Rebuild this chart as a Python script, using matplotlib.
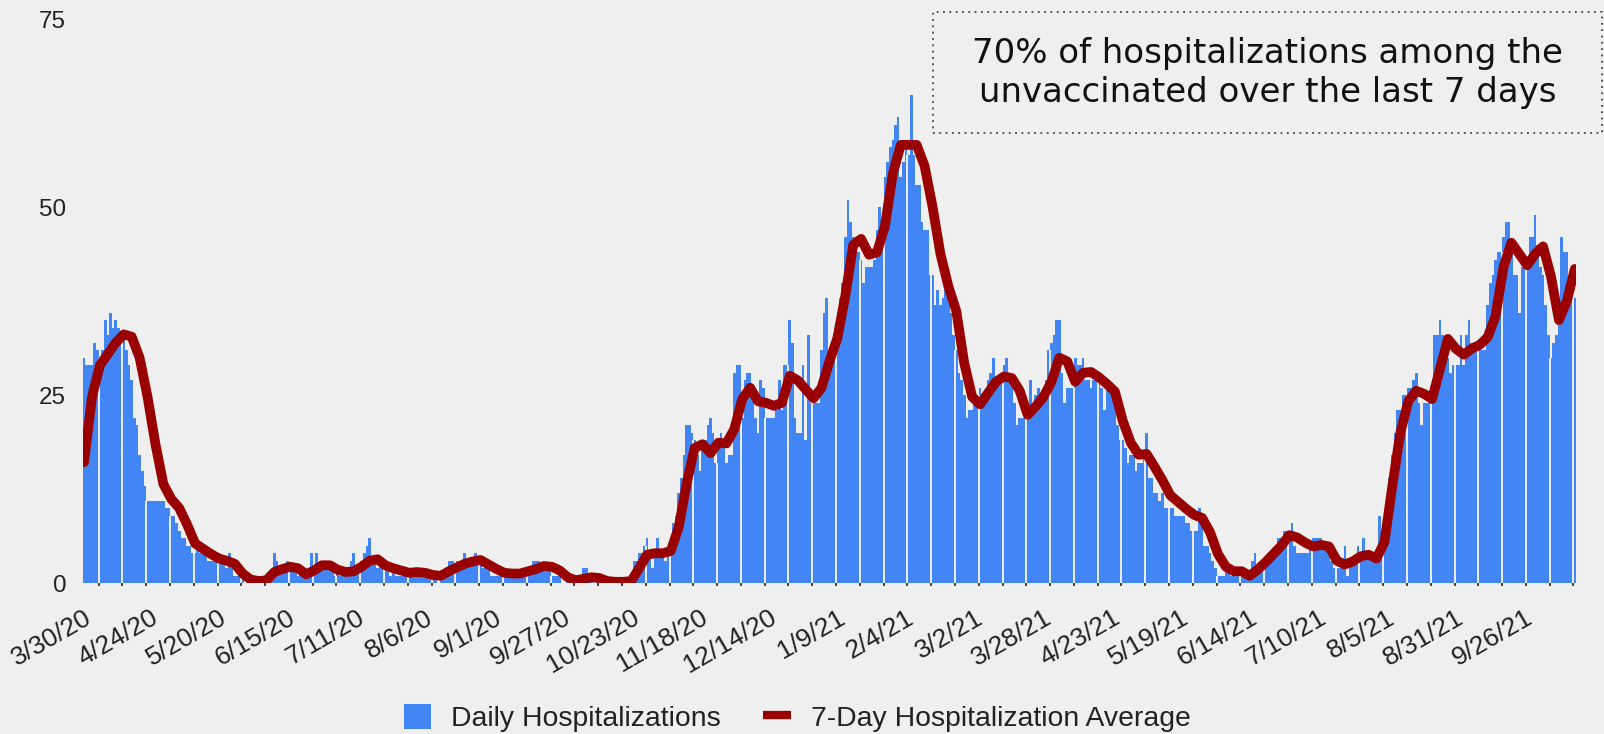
import matplotlib
matplotlib.use("Agg")
import matplotlib.pyplot as plt
from matplotlib.patches import Rectangle, Patch
from matplotlib.lines import Line2D
from matplotlib.ticker import MultipleLocator
import numpy as np
import pandas as pd

# ---- data ----
START = "2020-03-30"
# daily hospitalizations, one value per day from 3/30/20 (10 per row)
DAILY = [
    30, 29, 29, 29, 32, 31, 30, 31, 35, 33,
    36, 34, 35, 34, 33, 33, 31, 29, 27, 22,
    21, 17, 15, 13, 11, 11, 11, 11, 11, 11,
    11, 10, 10, 9, 9, 8, 7, 6, 6, 5,
    5, 4, 4, 5, 4, 4, 4, 3, 3, 3,
    3, 4, 3, 3, 2, 4, 2, 1, 1, 1,
    1, 0, 0, 1, 0, 0, 0, 1, 0, 0,
    0, 1, 4, 3, 2, 2, 2, 3, 2, 2,
    2, 1, 2, 1, 1, 1, 4, 2, 4, 2,
    3, 3, 2, 2, 2, 1, 2, 1, 1, 2,
    1, 3, 4, 2, 2, 3, 4, 5, 6, 3,
    3, 2, 3, 2, 2, 2, 1, 2, 1, 1,
    1, 1, 1, 2, 1, 2, 1, 1, 2, 1,
    1, 1, 1, 1, 0, 1, 1, 2, 3, 3,
    3, 3, 3, 3, 4, 3, 3, 3, 4, 3,
    3, 2, 2, 2, 1, 1, 1, 1, 1, 1,
    1, 1, 1, 1, 1, 1, 1, 2, 2, 2,
    3, 3, 3, 2, 2, 2, 2, 1, 1, 1,
    1, 0, 0, 1, 0, 0, 0, 1, 0, 2,
    2, 1, 1, 0, 1, 0, 0, 0, 0, 0,
    0, 0, 0, 0, 0, 0, 0, 1, 3, 3,
    4, 4, 5, 6, 4, 2, 4, 6, 4, 4,
    3, 5, 6, 8, 9, 12, 14, 17, 21, 21,
    20, 19, 17, 15, 18, 19, 21, 22, 20, 16,
    19, 20, 18, 16, 17, 17, 28, 29, 29, 22,
    27, 28, 28, 25, 22, 20, 27, 26, 22, 22,
    22, 22, 23, 27, 23, 29, 29, 35, 32, 22,
    20, 20, 29, 19, 33, 24, 24, 24, 24, 31,
    36, 38, 30, 32, 33, 35, 38, 40, 46, 51,
    48, 46, 46, 44, 43, 40, 42, 42, 42, 43,
    47, 50, 48, 54, 56, 58, 59, 61, 62, 54,
    56, 58, 57, 65, 57, 53, 53, 48, 47, 47,
    41, 41, 37, 39, 37, 38, 39, 38, 36, 33,
    31, 28, 27, 25, 22, 23, 23, 24, 25, 26,
    24, 25, 27, 28, 30, 27, 27, 28, 29, 30,
    28, 27, 24, 21, 22, 22, 22, 23, 27, 23,
    25, 26, 25, 25, 27, 31, 32, 33, 35, 35,
    28, 24, 26, 26, 26, 30, 29, 29, 30, 27,
    27, 26, 27, 27, 27, 26, 23, 26, 26, 26,
    24, 21, 19, 19, 18, 16, 17, 17, 15, 16,
    16, 17, 20, 14, 14, 12, 12, 11, 12, 10,
    10, 10, 10, 9, 9, 9, 9, 8, 8, 7,
    7, 7, 10, 8, 5, 5, 4, 3, 2, 1,
    1, 1, 2, 2, 1, 1, 1, 2, 1, 1,
    1, 1, 3, 4, 2, 2, 2, 3, 3, 4,
    4, 5, 6, 6, 7, 7, 7, 8, 5, 4,
    4, 4, 4, 4, 5, 6, 6, 6, 6, 5,
    5, 5, 3, 2, 2, 2, 2, 5, 1, 3,
    3, 3, 5, 4, 6, 4, 4, 3, 3, 3,
    9, 5, 7, 11, 14, 17, 20, 23, 23, 25,
    25, 26, 26, 27, 28, 24, 21, 24, 24, 25,
    26, 33, 33, 35, 33, 31, 30, 28, 29, 29,
    29, 33, 29, 33, 35, 32, 32, 32, 31, 31,
    31, 37, 40, 41, 43, 44, 44, 46, 48, 48,
    45, 41, 41, 36, 42, 42, 43, 46, 46, 49,
    45, 42, 41, 37, 33, 30, 32, 33, 35, 46,
    44, 44, 40, 40, 38,
]
# 7-day average, read every 3rd day from 3/30/20
AVG_STEP = 3
AVG_7DAY = [
    16.1, 24.8, 29.0, 30.5, 32.0, 33.1, 32.8, 30.0, 24.8, 18.5,
    13.2, 11.2, 10.0, 7.8, 5.3, 4.6, 3.9, 3.3, 3.0, 2.6,
    1.3, 0.5, 0.3, 0.4, 1.5, 1.9, 2.2, 2.0, 1.2, 1.7,
    2.4, 2.4, 1.8, 1.5, 1.6, 2.2, 3.0, 3.2, 2.4, 2.0,
    1.7, 1.4, 1.5, 1.4, 1.1, 1.0, 1.6, 2.1, 2.6, 2.9,
    3.1, 2.5, 1.9, 1.4, 1.3, 1.3, 1.6, 1.9, 2.3, 2.2,
    1.7, 0.8, 0.4, 0.6, 0.8, 0.7, 0.3, 0.2, 0.2, 0.3,
    2.0, 3.8, 4.0, 4.0, 4.3, 7.5, 13.3, 18.0, 18.5, 17.3,
    18.7, 18.6, 20.5, 24.5, 26.0, 24.2, 24.0, 23.6, 24.0, 27.6,
    27.0, 25.8, 24.6, 26.0, 29.5, 32.6, 38.2, 45.0, 45.8, 43.7,
    44.0, 47.5, 54.5, 58.3, 58.3, 58.3, 55.5, 50.1, 43.8, 39.5,
    36.2, 29.3, 24.8, 23.8, 25.3, 26.8, 27.5, 27.3, 25.6, 22.4,
    23.5, 24.8, 26.8, 30.0, 29.5, 26.8, 28.0, 28.1, 27.4, 26.5,
    25.5, 21.6, 18.7, 17.1, 17.2, 15.5, 13.7, 11.7, 10.8, 9.9,
    9.1, 8.7, 6.8, 3.9, 2.2, 1.6, 1.6, 1.0, 1.8, 2.8,
    3.9, 5.0, 6.4, 6.1, 5.4, 4.9, 5.1, 4.9, 3.0, 2.5,
    2.9, 3.6, 3.8, 3.3, 5.5, 13.0, 20.0, 24.2, 25.6, 25.2,
    24.5, 28.5, 32.5, 31.2, 30.4, 31.2, 31.7, 32.7, 35.5, 42.0,
    45.3, 43.8, 42.3, 43.8, 44.8, 40.8, 35.0, 37.5, 41.8,
]
TICK_LABELS = [
    "3/30/20", "4/24/20", "5/20/20", "6/15/20", "7/11/20", "8/6/20",
    "9/1/20", "9/27/20", "10/23/20", "11/18/20", "12/14/20", "1/9/21",
    "2/4/21", "3/2/21", "3/28/21", "4/23/21", "5/19/21", "6/14/21",
    "7/10/21", "8/5/21", "8/31/21", "9/26/21",
]
Y_TICKS = [0, 25, 50, 75]
SERIES_NAMES = ["Daily Hospitalizations", "7-Day Hospitalization Average"]
NOTE = "70% of hospitalizations among the\nunvaccinated over the last 7 days"

BLUE = "#4285f4"
RED = "#990000"
BG = "#efefef"
TXT = "#222222"
SANS = ["Liberation Sans", "DejaVu Sans"]

start = pd.Timestamp(START)
day = np.arange(len(DAILY))
avg_day = np.arange(len(AVG_7DAY)) * AVG_STEP
tick_pos = [(pd.to_datetime(t, format="%m/%d/%y") - start).days for t in TICK_LABELS]

fig = plt.figure(figsize=(16.04, 7.34), dpi=100, facecolor=BG)
ax = fig.add_axes([0.0516, 0.2053, 0.9310, 0.7684], facecolor=BG)

ax.bar(day, DAILY, width=1.0, color=BLUE, linewidth=0, antialiased=False, zorder=2)
ax.plot(avg_day, AVG_7DAY, color=RED, lw=7, solid_joinstyle="round",
        solid_capstyle="round", zorder=4)

ax.set_xlim(-0.5, len(DAILY) - 0.5)
ax.set_ylim(0, 75)

# small ticks every 9 days, with the light seams they leave in the bars
ax.xaxis.set_minor_locator(MultipleLocator(9, offset=5.5))
seams = [p for p in ax.xaxis.get_minorticklocs() if 0 < p < len(DAILY) - 1]
seam_h = [min(DAILY[int(p)], DAILY[int(p) + 1]) for p in seams]
ax.vlines(seams, 0, seam_h, colors="#f6f6f6", lw=1.3, zorder=3)

ax.set_xticks(tick_pos)
ax.set_xticklabels(TICK_LABELS, rotation=30, ha="right", rotation_mode="anchor",
                   fontsize=19, family=SANS, color=TXT)
ax.tick_params(axis="x", which="major", length=0, pad=16)
ax.tick_params(axis="x", which="minor", length=2, width=1.3, color="#333333",
               direction="out")
ax.set_yticks(Y_TICKS)
ax.set_yticklabels([str(v) for v in Y_TICKS], fontsize=17.4, family=SANS, color=TXT)
ax.tick_params(axis="y", length=0, pad=12)
for s in ax.spines.values():
    s.set_visible(False)

# annotation box, top right
fig.add_artist(Rectangle((0.5817, 0.8188), 0.4171, 0.1649, transform=fig.transFigure,
                         fill=False, edgecolor="#444444", lw=1.3,
                         linestyle=(0, (1, 2.5))))
fig.text(0.7902, 0.9005, NOTE, ha="center", va="center", fontsize=24.5,
         family="DejaVu Sans", color="#111111", linespacing=1.2)

handles = [Patch(facecolor=BLUE, label=SERIES_NAMES[0]),
           Line2D([0], [0], color=RED, lw=6, solid_capstyle="butt", label=SERIES_NAMES[1])]
fig.legend(handles=handles, loc="center", bbox_to_anchor=(0.497, 0.0218), ncol=2,
           frameon=False, prop={"family": SANS, "size": 20.4}, handlelength=0.98,
           handleheight=0.98, handletextpad=0.7, columnspacing=1.5, borderpad=0,
           labelcolor=TXT)

fig.savefig("out.png", dpi=100, facecolor=BG)
